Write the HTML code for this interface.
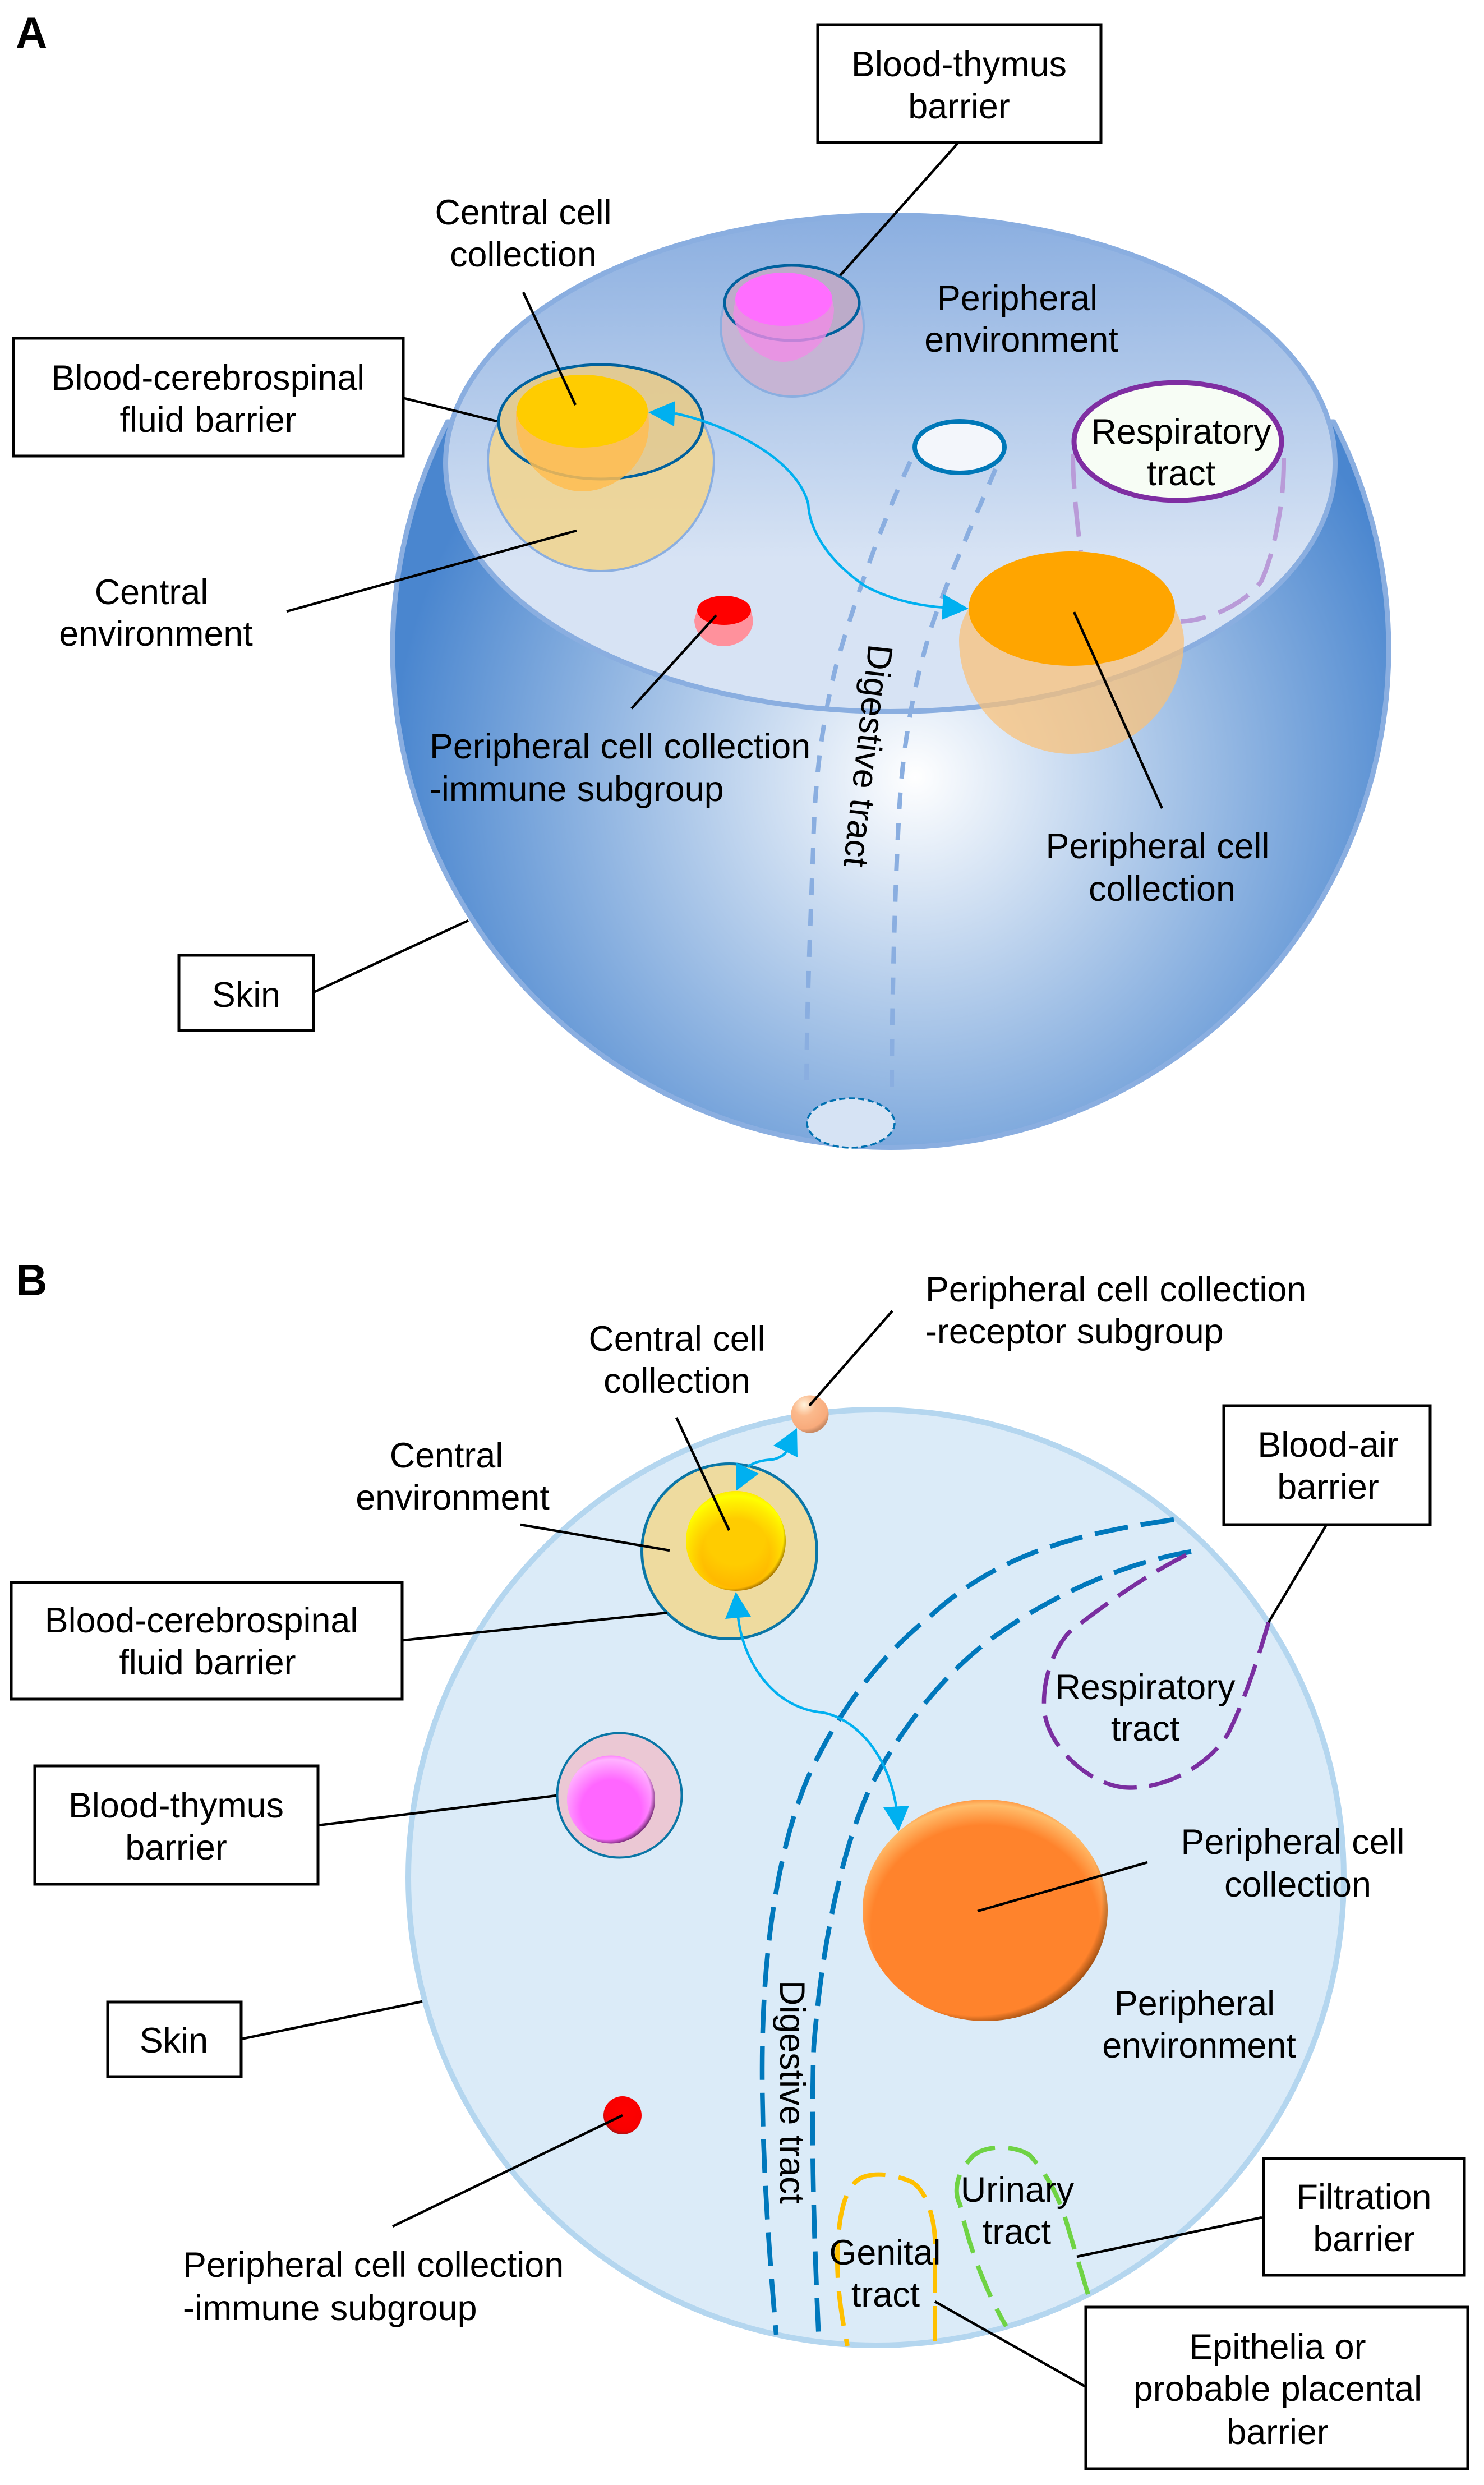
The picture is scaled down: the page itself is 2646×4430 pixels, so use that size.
<!DOCTYPE html>
<html><head><meta charset="utf-8"><title>Barrier diagram</title>
<style>
html,body{margin:0;padding:0;background:#fff}
svg{display:block}
text{font-family:"Liberation Sans",Arial,sans-serif;font-size:62.8px;word-spacing:1px;fill:#000;text-anchor:middle}
.l{text-anchor:start}
.h{font-weight:bold;font-size:78px;text-anchor:start}
.ld{stroke:#000;stroke-width:4.5;fill:none}
.bx{fill:#fff;stroke:#000;stroke-width:5}
</style></head><body>
<svg width="2646" height="4430" viewBox="0 0 2646 4430" xmlns="http://www.w3.org/2000/svg">
<defs>
<radialGradient id="body" gradientUnits="userSpaceOnUse" cx="1632" cy="1385" r="935">
<stop offset="0" stop-color="#fff"/><stop offset="1" stop-color="#4a86cf"/></radialGradient>
<linearGradient id="disc" gradientUnits="userSpaceOnUse" x1="0" y1="380" x2="0" y2="1272">
<stop offset="0" stop-color="#8aaee0"/><stop offset=".69" stop-color="#d7e3f4"/><stop offset="1" stop-color="#d7e3f4"/></linearGradient>
<radialGradient id="dark" cx=".46" cy=".46" r=".56">
<stop offset=".92" stop-color="#5a2a00" stop-opacity="0"/><stop offset="1" stop-color="#5a2a00" stop-opacity=".65"/></radialGradient>
<radialGradient id="darkm" cx=".46" cy=".46" r=".56">
<stop offset=".88" stop-color="#300030" stop-opacity="0"/><stop offset="1" stop-color="#300030" stop-opacity=".75"/></radialGradient>
<radialGradient id="lo" cx=".5" cy=".58" r=".58">
<stop offset=".8" stop-color="#ffd080" stop-opacity="0"/><stop offset=".96" stop-color="#ffd080" stop-opacity=".75"/><stop offset="1" stop-color="#ffd080" stop-opacity=".3"/></radialGradient>
<radialGradient id="ly" cx=".5" cy=".62" r=".62">
<stop offset=".55" stop-color="#ffff00" stop-opacity="0"/><stop offset=".92" stop-color="#ffff00"/><stop offset="1" stop-color="#ffee00"/></radialGradient>
<radialGradient id="lm" cx=".5" cy=".62" r=".62">
<stop offset=".55" stop-color="#ffc0ff" stop-opacity="0"/><stop offset=".93" stop-color="#ffc0ff" stop-opacity=".85"/><stop offset="1" stop-color="#ffc0ff" stop-opacity=".3"/></radialGradient>
<radialGradient id="yb" cx=".5" cy=".45" r=".58">
<stop offset=".5" stop-color="#ffcc00"/><stop offset="1" stop-color="#ffb000"/></radialGradient>
<radialGradient id="red" cx=".55" cy=".4" r=".6">
<stop offset="0" stop-color="#ff0000"/><stop offset=".85" stop-color="#f80000"/><stop offset="1" stop-color="#b01010"/></radialGradient>
<radialGradient id="pch" cx=".35" cy=".25" r=".75">
<stop offset="0" stop-color="#fff3dc"/><stop offset=".4" stop-color="#fbb98c"/><stop offset=".85" stop-color="#f8ab7c"/><stop offset="1" stop-color="#c98a64"/></radialGradient>
</defs>
<rect width="2646" height="4430" fill="#fff"/>

<!-- PANEL A -->
<path d="M798 752 A888 888 0 1 0 2378 752 Z" fill="url(#body)" stroke="#8aaee0" stroke-width="9" stroke-linejoin="round"/>
<ellipse cx="1587.5" cy="826" rx="793" ry="442.5" fill="url(#disc)" stroke="#8aaee0" stroke-width="9"/>

<!-- digestive A -->
<g fill="none" stroke="#8aaee0" stroke-width="8" stroke-dasharray="30 25">
<path d="M1623 823 C1575 925 1520 1080 1490 1190 C1465 1290 1452 1400 1450 1510 C1445 1650 1438 1800 1438 1950"/>
<path d="M1775 836 C1740 920 1690 1030 1660 1120 C1630 1220 1610 1320 1603 1450 C1595 1600 1590 1800 1590 1945"/>
</g>
<ellipse cx="1711" cy="797" rx="80" ry="46" fill="#f3f6fb" stroke="#0078b8" stroke-width="8"/>
<ellipse cx="1517" cy="2002" rx="78" ry="44" fill="#d6e3f4" stroke="#0070b0" stroke-width="3.5" stroke-dasharray="11 6"/>

<!-- respiratory A -->
<g fill="none" stroke="#b99bd8" stroke-width="8" stroke-dasharray="62 24">
<path d="M1913 809 C1913 860 1920 930 1927 983"/>
<path d="M2289 817 C2290 900 2270 990 2249 1036 C2225 1070 2165 1105 2105 1108"/>
</g>
<ellipse cx="2100" cy="787" rx="185" ry="105" fill="#f7fdf5" stroke="#7f2ea2" stroke-width="9"/>

<!-- central cup A -->
<path d="M889 752 C875 775 870 800 870 819 A201.5 199 0 0 0 1273 819 C1273 800 1265 775 1253 752 A182 102 0 0 0 889 752 Z" fill="#eed596" fill-opacity=".95" stroke="#8aaee0" stroke-width="4"/>
<ellipse cx="1071" cy="752" rx="182" ry="102" fill="#8a7a60" fill-opacity=".1"/>
<ellipse cx="1071" cy="752" rx="182" ry="102" fill="none" stroke="#00619e" stroke-width="5"/>
<path d="M920 733 L920 758 C925 830 985 876 1038 876 C1095 876 1156 830 1157 758 L1156 733 Z" fill="#ffbd51" fill-opacity=".85"/>
<ellipse cx="1038" cy="733" rx="117" ry="65" fill="#ffcc00"/>

<!-- thymus cup A -->
<path d="M1292 540 C1288 555 1285 568 1285 581 A127.5 126 0 0 0 1540 581 C1540 568 1538 555 1533 540 A120 67 0 0 0 1292 540 Z" fill="#c6b4d4" stroke="#8aaee0" stroke-width="4"/>
<ellipse cx="1412" cy="540" rx="120" ry="67" fill="#8a7a90" fill-opacity=".16"/>
<ellipse cx="1412" cy="540" rx="120" ry="67" fill="none" stroke="#00619e" stroke-width="5"/>
<path d="M1311 534 L1307 560 C1315 610 1360 645 1397 645 C1440 645 1487 600 1487 550 L1484 534 Z" fill="#f08ce6" fill-opacity=".8"/>
<ellipse cx="1397.5" cy="533.5" rx="86.5" ry="47.5" fill="#ff6eff"/>

<!-- red cup A -->
<path d="M1243 1088 L1238 1105 A52.5 47 0 0 0 1343 1105 L1339 1088 Z" fill="#ff919c"/>
<ellipse cx="1291" cy="1088" rx="48" ry="26" fill="#ff0000"/>

<!-- peripheral cup A -->
<path d="M1727 1085 C1715 1105 1710 1125 1710 1141 A200.5 203 0 0 0 2111 1141 C2111 1125 2105 1105 2095 1085 Z" fill="#fbc076" fill-opacity=".72"/>
<ellipse cx="1911" cy="1085" rx="184" ry="102" fill="#ffa500"/>

<!-- arrow A -->
<path d="M1204 737 C1290 755 1420 815 1441 898 C1443 940 1470 995 1543 1045 C1590 1070 1640 1080 1684 1083" fill="none" stroke="#00b0f0" stroke-width="4.5"/>
<polygon points="1156,735 1204,715 1202,760" fill="#00b0f0"/>
<polygon points="1727,1085 1682,1059 1679,1105" fill="#00b0f0"/>

<!-- leaders A -->
<g class="ld">
<line x1="1708" y1="255" x2="1498" y2="491"/>
<line x1="933" y1="521" x2="1026" y2="722"/>
<line x1="717" y1="709" x2="886" y2="751"/>
<line x1="511" y1="1090" x2="1028" y2="946"/>
<line x1="1277" y1="1097" x2="1126" y2="1263"/>
<line x1="1915" y1="1091" x2="2072" y2="1441"/>
<line x1="559" y1="1769" x2="835" y2="1641"/>
</g>
<!-- boxes A -->
<rect class="bx" x="1458" y="44" width="505" height="210"/>
<rect class="bx" x="24" y="603" width="695" height="210"/>
<rect class="bx" x="319" y="1703" width="240" height="134"/>

<!-- text A -->
<text class="h" x="28" y="85">A</text>
<text x="1710" y="136">Blood-thymus</text><text x="1710" y="211">barrier</text>
<text x="933" y="400">Central cell</text><text x="933" y="475">collection</text>
<text x="1814" y="553">Peripheral</text><text x="1821" y="627">environment</text>
<text x="371" y="695">Blood-cerebrospinal</text><text x="371" y="770">fluid barrier</text>
<text x="2106" y="791">Respiratory</text><text x="2106" y="865">tract</text>
<text x="270" y="1077">Central</text><text x="278" y="1151">environment</text>
<text class="l" x="766" y="1352">Peripheral cell collection</text>
<text class="l" x="766" y="1428">-immune subgroup</text>
<text x="2064" y="1530">Peripheral cell</text><text x="2072" y="1606">collection</text>
<text x="439" y="1795">Skin</text>
<text class="l" transform="translate(1549 1147) rotate(96.5)">Digestive tract</text>

<!-- PANEL B -->
<circle cx="1562" cy="3347" r="834" fill="#dbebf8" stroke="#b4d6ef" stroke-width="10"/>

<g fill="none" stroke="#0078bc" stroke-width="8.5" stroke-dasharray="60 23">
<path d="M2093 2709 C1950 2730 1790 2760 1660 2880 C1560 2960 1490 3060 1440 3170 C1390 3290 1365 3450 1360 3620 C1355 3800 1370 4000 1384 4162"/>
<path d="M2124 2766 C2010 2785 1880 2840 1771 2919 C1680 2985 1600 3090 1550 3190 C1500 3300 1465 3470 1451 3648 C1445 3800 1452 4000 1460 4174"/>
</g>
<path d="M2115 2772 C2040 2810 1970 2860 1906 2910 C1875 2945 1858 3000 1862 3050 C1870 3120 1950 3187 2014 3187 C2090 3187 2160 3140 2190 3090 C2220 3030 2245 2950 2262 2892" fill="none" stroke="#7a2ea0" stroke-width="7.5" stroke-dasharray="60 22"/>
<path d="M1940 4090 C1925 4040 1910 3990 1904 3970 C1890 3920 1870 3880 1837 3843 C1815 3825 1750 3820 1729 3850 C1705 3875 1700 3910 1712 3930 C1725 4000 1760 4090 1794 4147" fill="none" stroke="#6fd344" stroke-width="8" stroke-dasharray="60 24"/>
<path d="M1667 4173 L1667 3990 C1665 3950 1650 3900 1622 3888 C1590 3875 1545 3870 1525 3890 C1505 3910 1495 3950 1493 4020 C1492 4090 1505 4150 1511 4182" fill="none" stroke="#ffc000" stroke-width="8" stroke-dasharray="62 24"/>

<circle cx="1300.5" cy="2765.5" r="156" fill="#eedb9f" stroke="#0a76a6" stroke-width="5"/>
<circle cx="1312" cy="2747" r="89" fill="url(#yb)"/>
<circle cx="1312" cy="2747" r="89" fill="url(#ly)"/>
<circle cx="1312" cy="2747" r="89" fill="url(#dark)"/>
<circle cx="1444" cy="2521" r="33.5" fill="url(#pch)"/>
<ellipse cx="1756.5" cy="3405.5" rx="218.5" ry="197.5" fill="#ff832c"/>
<ellipse cx="1756.5" cy="3405.5" rx="218.5" ry="197.5" fill="url(#lo)"/>
<ellipse cx="1756.5" cy="3405.5" rx="218.5" ry="197.5" fill="url(#dark)"/>
<circle cx="1104.5" cy="3200.5" r="111" fill="#ebc8d4" stroke="#0a76a6" stroke-width="4"/>
<circle cx="1089.5" cy="3208" r="78.5" fill="#ff66ff"/>
<circle cx="1089.5" cy="3208" r="78.5" fill="url(#lm)"/>
<circle cx="1089.5" cy="3208" r="78.5" fill="url(#darkm)"/>
<circle cx="1110" cy="3771" r="34" fill="url(#red)"/>

<!-- arrows B -->
<g fill="none" stroke="#00b0f0" stroke-width="4.5">
<path d="M1333 2615 C1345 2606 1360 2603 1377 2602 C1388 2600 1398 2594 1402 2588"/>
<path d="M1316 2883 C1325 2960 1375 3040 1459 3052 C1510 3056 1580 3110 1598 3221"/>
</g>
<g fill="#00b0f0">
<polygon points="1312,2607 1353,2627 1312,2658"/>
<polygon points="1421,2546 1379,2577 1422,2598"/>
<polygon points="1312,2838 1293,2886 1339,2882"/>
<polygon points="1602,3265 1575,3222 1621,3219"/>
</g>

<!-- leaders B -->
<g class="ld">
<line x1="2364" y1="2720" x2="2262" y2="2892"/>
<line x1="1591" y1="2337" x2="1443" y2="2506"/>
<line x1="1206" y1="2527" x2="1300" y2="2728"/>
<line x1="928" y1="2718" x2="1194" y2="2764"/>
<line x1="719" y1="2924" x2="1190" y2="2875"/>
<line x1="567" y1="3254" x2="992" y2="3201"/>
<line x1="430" y1="3635" x2="753" y2="3568"/>
<line x1="1110" y1="3771" x2="700" y2="3969"/>
<line x1="1743" y1="3407" x2="2046" y2="3320"/>
<line x1="2250" y1="3953" x2="1920" y2="4023"/>
<line x1="1667" y1="4103" x2="1936" y2="4255"/>
</g>
<!-- boxes B -->
<rect class="bx" x="2182" y="2506" width="368" height="212"/>
<rect class="bx" x="20" y="2821" width="697" height="208"/>
<rect class="bx" x="62" y="3148" width="505" height="211"/>
<rect class="bx" x="192" y="3569" width="238" height="133"/>
<rect class="bx" x="2253" y="3848" width="358" height="208"/>
<rect class="bx" x="1936" y="4113" width="681" height="288"/>

<!-- text B -->
<text class="h" x="28" y="2309">B</text>
<text class="l" x="1650" y="2320">Peripheral cell collection</text>
<text class="l" x="1650" y="2395">-receptor subgroup</text>
<text x="1207" y="2408">Central cell</text><text x="1207" y="2483">collection</text>
<text x="796" y="2616">Central</text><text x="807" y="2691">environment</text>
<text x="2368" y="2597">Blood-air</text><text x="2368" y="2672">barrier</text>
<text x="359" y="2910">Blood-cerebrospinal</text><text x="370" y="2985">fluid barrier</text>
<text x="2042" y="3029">Respiratory</text><text x="2042" y="3103">tract</text>
<text x="314" y="3240">Blood-thymus</text><text x="314" y="3315">barrier</text>
<text x="2305" y="3305">Peripheral cell</text><text x="2314" y="3381">collection</text>
<text x="2130" y="3593">Peripheral</text><text x="2138" y="3668">environment</text>
<text x="310" y="3659">Skin</text>
<text class="l" transform="translate(1391 3530) rotate(90)">Digestive tract</text>
<text class="l" x="326" y="4059">Peripheral cell collection</text>
<text class="l" x="326" y="4136">-immune subgroup</text>
<text x="1814" y="3925">Urinary</text><text x="1813" y="4000">tract</text>
<text x="1578" y="4037">Genital</text><text x="1579" y="4112">tract</text>
<text x="2432" y="3938">Filtration</text><text x="2432" y="4013">barrier</text>
<text x="2278" y="4205">Epithelia or</text><text x="2278" y="4280">probable placental</text><text x="2278" y="4357">barrier</text>
</svg>
</body></html>
